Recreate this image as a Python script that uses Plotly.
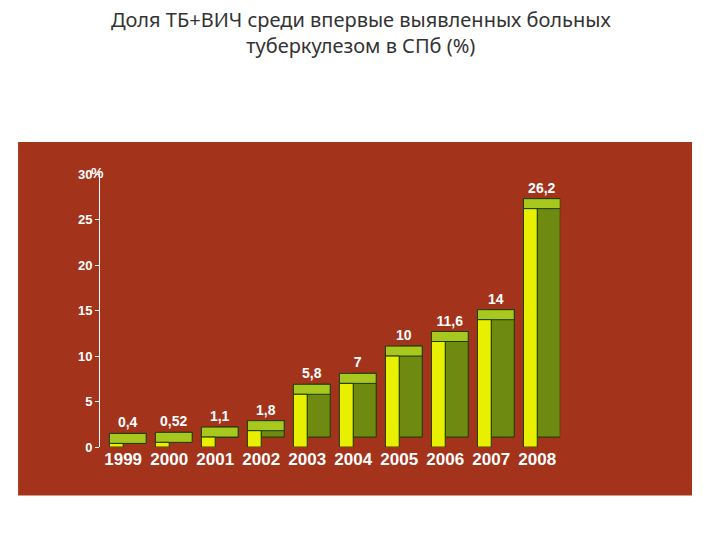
import plotly.graph_objects as go

years = ["1999","2000","2001","2002","2003","2004","2005","2006","2007","2008"]
values = [0.4, 0.52, 1.1, 1.8, 5.8, 7, 10, 11.6, 14, 26.2]
labels = ["0,4","0,52","1,1","1,8","5,8","7","10","11,6","14","26,2"]
depth = 1.1

fig = go.Figure()
# side face
fig.add_bar(x=years, y=values, base=[depth]*len(values), offset=0, width=0.5,
            marker=dict(color="#6f8a10", line=dict(color="#1a3a00", width=1)), hoverinfo="skip")
# top face
fig.add_bar(x=years, y=[depth]*len(values), base=values, offset=-0.3, width=0.8,
            marker=dict(color="#a8c820", line=dict(color="#1a3a00", width=1)),
            text=labels, textposition="outside", cliponaxis=False,
            textfont=dict(color="white", size=14, family="Liberation Sans", weight="bold"), hoverinfo="skip")
# front face
fig.add_bar(x=years, y=values, offset=-0.3, width=0.3,
            marker=dict(color="#e8f000", line=dict(color="#1a3a00", width=1)))

fig.add_shape(type="rect", xref="paper", yref="paper", x0=0.014, x1=0.95, y0=0.085, y1=0.758,
              fillcolor="#a3331a", line=dict(width=0), layer="below")
fig.add_annotation(text="%", xref="paper", yref="paper", x=0.112, y=0.718, showarrow=False,
                   font=dict(color="white", size=14, family="Liberation Sans", weight="bold"))

fig.update_layout(
    width=720, height=540, paper_bgcolor="white", plot_bgcolor="rgba(0,0,0,0)",
    margin=dict(l=0, r=0, t=0, b=0), showlegend=False, barmode="overlay",
    title=dict(text="Доля ТБ+ВИЧ среди впервые выявленных больных<br>туберкулезом в СПб (%)",
               x=0.49, xanchor="center", y=0.965, yanchor="top",
               font=dict(family="Noto Sans", size=20, color="#333333")),
    xaxis=dict(domain=[0.128, 0.767], range=[-0.5, 9.5], type="category", showgrid=False,
               showline=False, ticks="",
               tickfont=dict(color="white", size=17, family="Liberation Sans", weight="bold")),
    yaxis=dict(domain=[0.177, 0.697], range=[0, 30], dtick=5, showgrid=False, zeroline=False,
               showline=True, linecolor="white", ticks="outside", tickcolor="white", ticklen=4,
               tickfont=dict(color="white", size=13, family="Liberation Sans", weight="bold")),
)
fig.write_html("out.html")
